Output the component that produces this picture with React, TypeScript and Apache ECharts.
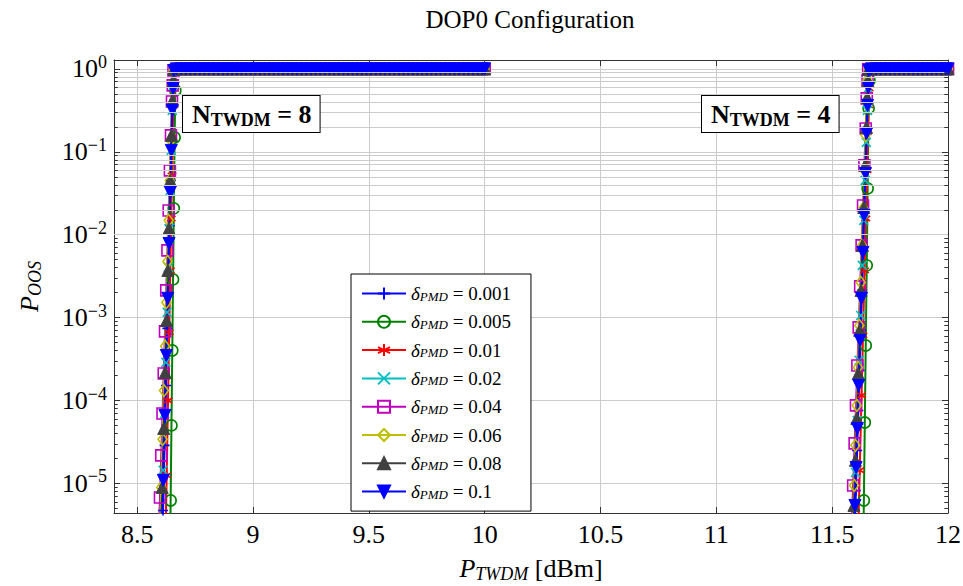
import React, { useEffect, useRef } from "react";
import * as echarts from "echarts";

const SERIF = "'Liberation Serif', 'DejaVu Serif', serif";

const deltaLabels = ["0.001", "0.005", "0.01", "0.02", "0.04", "0.06", "0.08", "0.1"];
const lineColors = ["#0000ff", "#008000", "#ff0000", "#00bfbf", "#bf00bf", "#bfbf00", "#404040", "#0000ff"];

// Rising edges for N_TWDM = 8, pairs of [P_TWDM (dBm), P_OOS]
const riseN8_0001 = [[8.6051, 7.78e-7], [8.6118, 4.72e-6], [8.6184, 2.88e-5], [8.6245, 1.52e-4], [8.6303, 7.41e-4], [8.6357, 3.23e-3], [8.6408, 1.29e-2], [8.6454, 4.52e-2], [8.6494, 0.137], [8.6531, 0.363], [8.6561, 0.687], [8.6591, 0.99]];
const riseN8_0005 = [[8.6412, 8.93e-7], [8.6445, 6.24e-6], [8.648, 5.01e-5], [8.6516, 4.02e-4], [8.6549, 2.89e-3], [8.6583, 2.08e-2], [8.6617, 0.149], [8.6647, 0.55], [8.6677, 0.99]];
const riseN8_001 = [[8.622, 1.79e-6], [8.6273, 1.25e-5], [8.6331, 1.0e-4], [8.6383, 6.64e-4], [8.643, 3.71e-3], [8.647, 1.57e-2], [8.6503, 5.19e-2], [8.6532, 0.149], [8.6561, 0.363], [8.6591, 0.687], [8.6612, 0.99]];
const riseN8_002 = [[8.6058, 3.11e-6], [8.6119, 1.44e-5], [8.6182, 6.98e-5], [8.6238, 2.88e-4], [8.6293, 1.16e-3], [8.6343, 4.04e-3], [8.6385, 1.19e-2], [8.6427, 3.42e-2], [8.6471, 0.104], [8.6516, 0.316], [8.6552, 0.632], [8.6586, 0.959]];
const riseN8_004 = [[8.5929, 2.05e-6], [8.5985, 6.78e-6], [8.604, 2.18e-5], [8.6095, 6.98e-5], [8.6147, 2.12e-4], [8.6202, 6.82e-4], [8.6256, 2.13e-3], [8.6308, 6.47e-3], [8.6361, 1.96e-2], [8.6413, 5.97e-2], [8.6459, 0.158], [8.6503, 0.405], [8.6535, 0.632], [8.6569, 0.959]];
const riseN8_006 = [[8.5986, 2.71e-6], [8.6038, 8.95e-6], [8.6096, 3.4e-5], [8.6155, 1.32e-4], [8.6208, 4.5e-4], [8.6261, 1.52e-3], [8.631, 4.76e-3], [8.636, 1.49e-2], [8.6408, 4.52e-2], [8.6456, 0.137], [8.6499, 0.363], [8.6535, 0.632], [8.6569, 0.959]];
const riseN8_008 = [[8.6019, 2.05e-6], [8.6079, 8.95e-6], [8.6146, 4.61e-5], [8.621, 2.18e-4], [8.6268, 9.25e-4], [8.6325, 3.71e-3], [8.6373, 1.19e-2], [8.6427, 4.52e-2], [8.6478, 0.158], [8.6518, 0.417], [8.6552, 0.726], [8.6582, 0.99]];
const riseN8_01 = [[8.606, 1.79e-6], [8.6128, 1.09e-5], [8.6196, 6.62e-5], [8.6259, 3.5e-4], [8.6319, 1.71e-3], [8.6376, 7.85e-3], [8.643, 3.24e-2], [8.6474, 0.104], [8.6516, 0.316], [8.6552, 0.582], [8.6586, 0.959]];

// Rising edges for N_TWDM = 4
const riseN4_0001 = [[11.5971, 2.71e-6], [11.6023, 8.22e-6], [11.6076, 2.5e-5], [11.6128, 7.59e-5], [11.618, 2.31e-4], [11.6233, 7.02e-4], [11.6285, 2.13e-3], [11.6338, 6.47e-3], [11.639, 1.96e-2], [11.6442, 5.97e-2], [11.6493, 0.171], [11.653, 0.395], [11.656, 0.65], [11.6586, 0.99]];
const riseN4_0005 = [[11.6329, 7.78e-7], [11.6368, 6.24e-6], [11.6409, 5.44e-5], [11.6449, 4.62e-4], [11.6492, 4.27e-3], [11.6532, 3.62e-2], [11.6573, 0.334], [11.6611, 0.726], [11.6641, 0.99]];
const riseN4_001 = [[11.6111, 1.79e-6], [11.619, 1.44e-5], [11.6268, 1.15e-4], [11.6331, 6.1e-4], [11.6399, 3.71e-3], [11.6454, 1.57e-2], [11.6504, 5.97e-2], [11.6546, 0.181], [11.6573, 0.363], [11.6599, 0.582], [11.662, 0.959]];
const riseN4_002 = [[11.5941, 3.58e-6], [11.6008, 1.36e-5], [11.6082, 5.75e-5], [11.6167, 3.05e-4], [11.6231, 1.06e-3], [11.6302, 4.27e-3], [11.6365, 1.49e-2], [11.6422, 4.52e-2], [11.6475, 0.13], [11.6521, 0.316], [11.6556, 0.582], [11.6586, 0.959]];
const riseN4_004 = [[11.5845, 3.11e-6], [11.5906, 9.46e-6], [11.597, 3.04e-5], [11.6028, 8.73e-5], [11.6089, 2.65e-4], [11.6146, 7.62e-4], [11.6209, 2.38e-3], [11.6271, 7.43e-3], [11.6332, 2.25e-2], [11.6392, 6.86e-2], [11.6449, 0.191], [11.6492, 0.441], [11.6526, 0.726], [11.6556, 0.99]];
const riseN4_006 = [[11.589, 3.11e-6], [11.5947, 9.46e-6], [11.6004, 2.88e-5], [11.606, 8.73e-5], [11.6114, 2.51e-4], [11.6173, 8.05e-4], [11.6234, 2.66e-3], [11.6286, 7.43e-3], [11.6339, 2.08e-2], [11.6392, 5.97e-2], [11.6442, 0.158], [11.6492, 0.417], [11.6526, 0.726], [11.6556, 0.99]];
const riseN4_008 = [[11.5883, 1.79e-6], [11.594, 5.43e-6], [11.6004, 1.9e-5], [11.6063, 6.08e-5], [11.6127, 2.12e-4], [11.6188, 7.02e-4], [11.6245, 2.13e-3], [11.6308, 7.43e-3], [11.6362, 2.13e-2], [11.6421, 6.86e-2], [11.6475, 0.197], [11.6513, 0.453], [11.6543, 0.726], [11.6569, 0.99]];
const riseN4_01 = [[11.5929, 1.79e-6], [11.5983, 5.43e-6], [11.6034, 1.56e-5], [11.6088, 4.61e-5], [11.6146, 1.52e-4], [11.6208, 5.31e-4], [11.6265, 1.71e-3], [11.6327, 6.12e-3], [11.6378, 1.71e-2], [11.6435, 5.48e-2], [11.649, 0.167], [11.653, 0.363], [11.656, 0.598], [11.6586, 0.959]];

const riseN8 = [riseN8_0001, riseN8_0005, riseN8_001, riseN8_002, riseN8_004, riseN8_006, riseN8_008, riseN8_01];
const riseN4 = [riseN4_0001, riseN4_0005, riseN4_001, riseN4_002, riseN4_004, riseN4_006, riseN4_008, riseN4_01];

// Saturated part (P_OOS = 1) sample positions
const plateauN8 = [8.67, 8.69, 8.71, 8.73, 8.75, 8.77, 8.79, 8.81, 8.83, 8.85, 8.87, 8.89, 8.91, 8.93, 8.95, 8.97, 8.99, 9.01, 9.03, 9.05, 9.07, 9.09, 9.11, 9.13, 9.15, 9.17, 9.19, 9.21, 9.23, 9.25, 9.27, 9.29, 9.31, 9.33, 9.35, 9.37, 9.39, 9.41, 9.43, 9.45, 9.47, 9.49, 9.51, 9.53, 9.55, 9.57, 9.59, 9.61, 9.63, 9.65, 9.67, 9.69, 9.71, 9.73, 9.75, 9.77, 9.79, 9.81, 9.83, 9.85, 9.87, 9.89, 9.91, 9.93, 9.95, 9.97, 9.99, 10.0];
const plateauN4 = [11.67, 11.69, 11.71, 11.73, 11.75, 11.77, 11.79, 11.81, 11.83, 11.85, 11.87, 11.89, 11.91, 11.93, 11.95, 11.97, 11.99, 12.0];
const plateauLevel = 1;

const X_MIN = 8.4;
const X_MAX = 12;
const Y_MIN = 4.4e-6;
const Y_MAX = 1.28;

// Log-axis minor grid positions (2..9 within each decade)
const minorDecades = [1e-6, 1e-5, 1e-4, 1e-3, 1e-2, 1e-1];
const minorSteps = [2, 3, 4, 5, 6, 7, 8, 9];

const GRID_COLOR = "#cccccc";

const markers = [
  { symbol: "path://M-5,0L5,0M0,-5L0,5", size: 10, filled: false, rotate: 0 },
  { symbol: "circle", size: 11, filled: false, rotate: 0 },
  { symbol: "path://M0,-5L0,5M-4.33,-2.5L4.33,2.5M-4.33,2.5L4.33,-2.5", size: 10, filled: false, rotate: 0 },
  { symbol: "path://M-5,-5L5,5M-5,5L5,-5", size: 9, filled: false, rotate: 0 },
  { symbol: "rect", size: 11, filled: false, rotate: 0 },
  { symbol: "diamond", size: [9, 12], filled: false, rotate: 0 },
  { symbol: "triangle", size: 12, filled: true, rotate: 0 },
  { symbol: "triangle", size: 12, filled: true, rotate: 180 },
];

function buildOption() {
  const minorValues: number[] = [];
  minorDecades.forEach((d) =>
    minorSteps.forEach((m) => {
      const v = m * d;
      if (v > Y_MIN && v < Y_MAX) minorValues.push(v);
    })
  );

  const tickStyle = { color: "#333", width: 1, type: "solid" };
  const gridSeries = {
    type: "line",
    name: "__grid",
    data: [],
    silent: true,
    z: 1,
    markLine: {
      silent: true,
      animation: false,
      symbol: ["none", "none"],
      label: { show: false },
      emphasis: { disabled: true },
      lineStyle: { color: GRID_COLOR, width: 1, type: "solid" },
      data: [
        ...minorValues.map((v) => ({ yAxis: v })),
        ...minorValues.map((v) => [
          { coord: [X_MIN, v], lineStyle: tickStyle },
          { coord: [X_MIN + 0.016, v] },
        ]),
        ...minorValues.map((v) => [
          { coord: [X_MAX - 0.016, v], lineStyle: tickStyle },
          { coord: [X_MAX, v] },
        ]),
      ],
    },
  };

  const series: any[] = [gridSeries];
  deltaLabels.forEach((name, i) => {
    const c = lineColors[i];
    const mk = markers[i];
    [riseN8[i], riseN4[i]].forEach((rise, g) => {
      const plateau = g === 0 ? plateauN8 : plateauN4;
      series.push({
        type: "line",
        name,
        data: rise.concat(plateau.map((x) => [x, plateauLevel])),
        symbol: mk.symbol,
        symbolSize: mk.size,
        symbolRotate: mk.rotate,
        symbolKeepAspect: true,
        showSymbol: true,
        showAllSymbol: true,
        clip: true,
        lineStyle: { color: c, width: 2 },
        itemStyle: mk.filled
          ? { color: c, borderColor: c, borderWidth: 1 }
          : { color: "rgba(0,0,0,0)", borderColor: c, borderWidth: 1.6 },
        emphasis: { disabled: true },
        z: 2,
      });
    });
  });

  const yLabel = (v: number) => {
    const l = Math.log10(v);
    const e = Math.round(l);
    if (Math.abs(l - e) > 1e-6) return "";
    return `{b|10}{s|${e === 0 ? "0" : "\u2212" + -e}}`;
  };

  const axisLineStyle = { show: true, lineStyle: { color: "#333", width: 1 } };
  const axisTickStyle = { show: true, inside: true, length: 6, lineStyle: { color: "#333" } };

  return {
    animation: false,
    backgroundColor: "#fff",
    grid: { left: 114, right: 15, top: 60, bottom: 73, containLabel: false, outerBoundsMode: "none" },
    legend: {
      data: deltaLabels,
      orient: "vertical",
      left: 351,
      top: 274,
      padding: [10, 20, 10, 10],
      itemWidth: 44,
      itemHeight: 15,
      itemGap: 9.3,
      backgroundColor: "#fff",
      borderColor: "#000",
      borderWidth: 1,
      borderRadius: 0,
      selectedMode: false,
      formatter: (name: string) => `{d|\u03b4}{s|PMD}{t| = ${name}}`,
      textStyle: {
        fontFamily: SERIF,
        color: "#000",
        rich: {
          d: { fontFamily: SERIF, fontStyle: "italic", fontSize: 19, lineHeight: 18, color: "#000" },
          s: { fontFamily: SERIF, fontStyle: "italic", fontSize: 13, lineHeight: 12, verticalAlign: "bottom", color: "#000" },
          t: { fontFamily: SERIF, fontSize: 19, lineHeight: 18, color: "#000" },
        },
      },
    },
    xAxis: [
      {
        type: "value",
        min: X_MIN,
        max: X_MAX,
        splitNumber: 7,
        position: "bottom",
        axisLine: axisLineStyle,
        axisTick: axisTickStyle,
        splitLine: { show: true, lineStyle: { color: GRID_COLOR, width: 1 } },
        axisLabel: {
          margin: 8,
          fontFamily: SERIF,
          fontSize: 26,
          color: "#000",
          showMinLabel: false,
          formatter: (v: number) => (Math.abs(v * 2 - Math.round(v * 2)) < 1e-6 ? String(v) : ""),
        },
        name: "{p|P}{s|TWDM}{t| [dBm]}",
        nameLocation: "middle",
        nameGap: 40,
        nameTextStyle: {
          rich: {
            p: { fontFamily: SERIF, fontStyle: "italic", fontSize: 26, lineHeight: 30, color: "#000" },
            s: { fontFamily: SERIF, fontStyle: "italic", fontSize: 18, lineHeight: 18, verticalAlign: "bottom", color: "#000" },
            t: { fontFamily: SERIF, fontSize: 26, lineHeight: 30, color: "#000" },
          },
        },
      },
      {
        type: "value",
        min: X_MIN,
        max: X_MAX,
        splitNumber: 7,
        position: "top",
        axisLine: axisLineStyle,
        axisTick: axisTickStyle,
        splitLine: { show: false },
        axisLabel: { show: false },
      },
    ],
    yAxis: [
      {
        type: "log",
        logBase: 10,
        min: Y_MIN,
        max: Y_MAX,
        position: "left",
        axisLine: axisLineStyle,
        axisTick: axisTickStyle,
        splitLine: { show: true, lineStyle: { color: GRID_COLOR, width: 1 } },
        axisLabel: {
          margin: 7,
          showMinLabel: false,
          showMaxLabel: false,
          formatter: yLabel,
          rich: {
            b: { fontFamily: SERIF, fontSize: 26, lineHeight: 32, color: "#000" },
            s: { fontFamily: SERIF, fontSize: 18, lineHeight: 18, verticalAlign: "top", color: "#000" },
          },
        },
        name: "{p|P}{s|OOS}",
        nameLocation: "middle",
        nameRotate: 90,
        nameGap: 70,
        nameTextStyle: {
          rich: {
            p: { fontFamily: SERIF, fontStyle: "italic", fontSize: 26, lineHeight: 30, color: "#000" },
            s: { fontFamily: SERIF, fontStyle: "italic", fontSize: 18, lineHeight: 18, verticalAlign: "bottom", color: "#000" },
          },
        },
      },
      {
        type: "log",
        logBase: 10,
        min: Y_MIN,
        max: Y_MAX,
        position: "right",
        axisLine: axisLineStyle,
        axisTick: axisTickStyle,
        splitLine: { show: false },
        axisLabel: { show: false },
      },
    ],
    graphic: [
      {
        type: "text",
        x: 530,
        y: 7,
        z: 10,
        style: { text: "DOP0 Configuration", align: "center", verticalAlign: "top", fontFamily: SERIF, fontSize: 25, fill: "#000" },
      },
      {
        type: "text",
        x: 183,
        y: 96,
        z: 10,
        style: {
          text: "{n|N}{s|TWDM}{n| = 8}",
          backgroundColor: "#fff",
          borderColor: "#000",
          borderWidth: 1,
          padding: [3, 8, 3, 9],
          rich: {
            n: { fontFamily: SERIF, fontWeight: "bold", fontSize: 26, lineHeight: 30, fill: "#000" },
            s: { fontFamily: SERIF, fontWeight: "bold", fontSize: 18, lineHeight: 18, verticalAlign: "bottom", fill: "#000" },
          },
        },
      },
      {
        type: "text",
        x: 702,
        y: 96,
        z: 10,
        style: {
          text: "{n|N}{s|TWDM}{n| = 4}",
          backgroundColor: "#fff",
          borderColor: "#000",
          borderWidth: 1,
          padding: [3, 8, 3, 9],
          rich: {
            n: { fontFamily: SERIF, fontWeight: "bold", fontSize: 26, lineHeight: 30, fill: "#000" },
            s: { fontFamily: SERIF, fontWeight: "bold", fontSize: 18, lineHeight: 18, verticalAlign: "bottom", fill: "#000" },
          },
        },
      },
    ],
    series,
  };
}

export default function App() {
  const ref = useRef<HTMLDivElement>(null);
  useEffect(() => {
    if (!ref.current) return;
    const chart = echarts.init(ref.current, undefined, { renderer: "svg" });
    chart.setOption(buildOption() as any);
    return () => chart.dispose();
  }, []);
  return (
    <div
      ref={ref}
      style={{ position: "fixed", left: 0, top: 0, width: 963, height: 586, background: "#fff" }}
    />
  );
}
